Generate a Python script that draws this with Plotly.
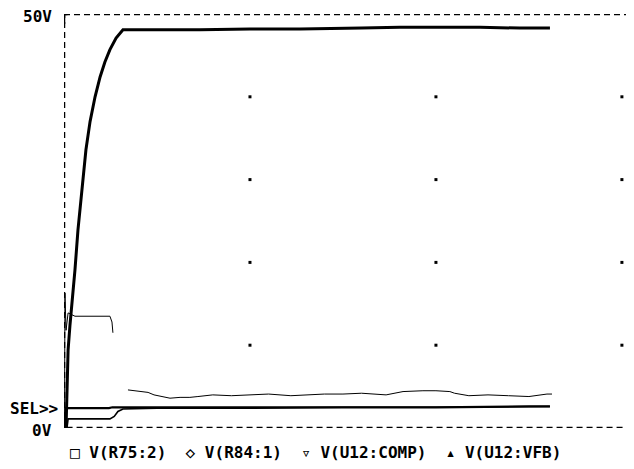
import plotly.graph_objects as go

# time axis in grid divisions (one division between dotted grid columns)
t_r75 = [0.011, 0.016, 0.022, 0.032, 0.043, 0.059, 0.075, 0.102, 0.118, 0.140, 0.167,
         0.194, 0.220, 0.247, 0.280, 0.317, 0.409, 0.731, 1.000, 1.269, 1.600, 1.806,
         2.000, 2.237, 2.450, 2.613]
v_r75 = [0.0, 4.6, 9.4, 12.4, 14.9, 19.1, 23.9, 30.6, 33.6, 37.0, 40.0,
         42.4, 44.2, 45.7, 47.1, 48.1, 48.1, 48.1, 48.2, 48.2, 48.3, 48.4,
         48.4, 48.4, 48.3, 48.3]

t_r84 = [0.005, 0.011, 0.016, 0.242, 0.260, 0.500, 1.000, 1.500, 2.000, 2.500, 2.613]
v_r84 = [0.0, 2.4, 2.4, 2.4, 2.5, 2.5, 2.5, 2.5, 2.5, 2.6, 2.6]

t_comp = [0.003, 0.005, 0.011, 0.022, 0.059, 0.247, 0.258, 0.263, None, 0.344,
          0.400, 0.452, 0.484, 0.570, 0.624, 0.677, 0.720, 0.800, 0.900, 1.000, 1.100,
          1.220, 1.300, 1.400, 1.500, 1.600, 1.732, 1.823, 1.930, 2.000, 2.075, 2.100,
          2.177, 2.280, 2.390, 2.500, 2.597, 2.624]
v_comp = [0.0, 16.3, 11.8, 13.9, 13.5, 13.5, 12.8, 11.5, None, 4.6,
          4.4, 4.3, 4.0, 3.6, 3.7, 3.7, 3.8, 4.0, 3.9, 4.0, 4.1,
          3.9, 4.0, 4.1, 4.1, 4.2, 4.0, 4.4, 4.5, 4.5, 4.4, 4.2,
          3.9, 4.0, 3.9, 3.8, 4.1, 4.1]

t_vfb = [0.016, 0.022, 0.247, 0.270, 0.290, 0.317, 0.500, 1.000, 1.500, 2.000, 2.613]
v_vfb = [0.0, 1.1, 1.1, 1.4, 2.0, 2.3, 2.4, 2.4, 2.5, 2.5, 2.6]

grid_x = [1, 2, 3]
grid_y = [10, 20, 30, 40]
x_max = 3.065
y_ticks = ["0V", "50V"]
legend_text = "\u25a1 V(R75:2)  \u25c7 V(R84:1)  \u25bf V(U12:COMP)  \u25b4 V(U12:VFB)"

fig = go.Figure()
fig.add_trace(go.Scatter(x=t_r84, y=v_r84, mode="lines",
                         line=dict(color="black", width=2.2), name="V(R84:1)"))
fig.add_trace(go.Scatter(x=t_vfb, y=v_vfb, mode="lines",
                         line=dict(color="black", width=1.6), name="V(U12:VFB)"))
fig.add_trace(go.Scatter(x=t_comp, y=v_comp, mode="lines", connectgaps=False,
                         line=dict(color="black", width=1), name="V(U12:COMP)"))
fig.add_trace(go.Scatter(x=t_r75, y=v_r75, mode="lines",
                         line=dict(color="black", width=3), name="V(R75:2)"))
gx = [x for x in grid_x for _ in grid_y]
gy = [y for _ in grid_x for y in grid_y]
fig.add_trace(go.Scatter(x=gx, y=gy, mode="markers",
                         marker=dict(color="black", size=3, symbol="square"),
                         hoverinfo="skip"))

dash = "6px,4px"
shapes = [
    dict(type="line", xref="x", yref="y", x0=0, x1=x_max, y0=50, y1=50,
         line=dict(color="black", width=2.5, dash=dash)),
    dict(type="line", xref="x", yref="y", x0=-0.04, x1=x_max, y0=0, y1=0,
         line=dict(color="black", width=2.5, dash=dash)),
    dict(type="line", xref="x", yref="y", x0=0, x1=0, y0=0, y1=50,
         line=dict(color="black", width=2.5, dash=dash)),
    dict(type="line", xref="x", yref="y", x0=-0.032, x1=0.018, y0=50, y1=50,
         line=dict(color="black", width=2.5)),
    dict(type="line", xref="x", yref="y", x0=0, x1=0, y0=50, y1=48.8,
         line=dict(color="black", width=2.5)),
]

font = dict(family="DejaVu Sans Mono", size=16, color="black", weight="bold")
annotations = [
    dict(x=0, y=50, xref="x", yref="y", text=y_ticks[1], showarrow=False,
         xanchor="right", yanchor="middle", xshift=-10, yshift=-2, font=font),
    dict(x=0, y=0, xref="x", yref="y", text=y_ticks[0], showarrow=False,
         xanchor="right", yanchor="middle", xshift=-10, yshift=-2, font=font),
    dict(x=0, y=2.4, xref="x", yref="y", text="SEL>>", showarrow=False,
         xanchor="right", yanchor="middle", xshift=-4, yshift=0, font=font),
    dict(x=0.007, y=0, xref="paper", yref="paper", text=legend_text, showarrow=False,
         xanchor="left", yanchor="middle", yshift=-24, font=font),
]

# the page body adds an 8px offset, so the margins are reduced by 8px
fig.update_layout(
    width=634, height=469,
    margin=dict(l=56, r=8, t=6, b=49),
    paper_bgcolor="white", plot_bgcolor="white",
    showlegend=False,
    shapes=shapes, annotations=annotations,
    xaxis=dict(range=[0, x_max], showgrid=False, zeroline=False, showticklabels=False,
               ticks="", showline=False),
    yaxis=dict(range=[0, 50], showgrid=False, zeroline=False, showticklabels=False,
               ticks="", showline=False),
)

fig.write_html("out.html")
